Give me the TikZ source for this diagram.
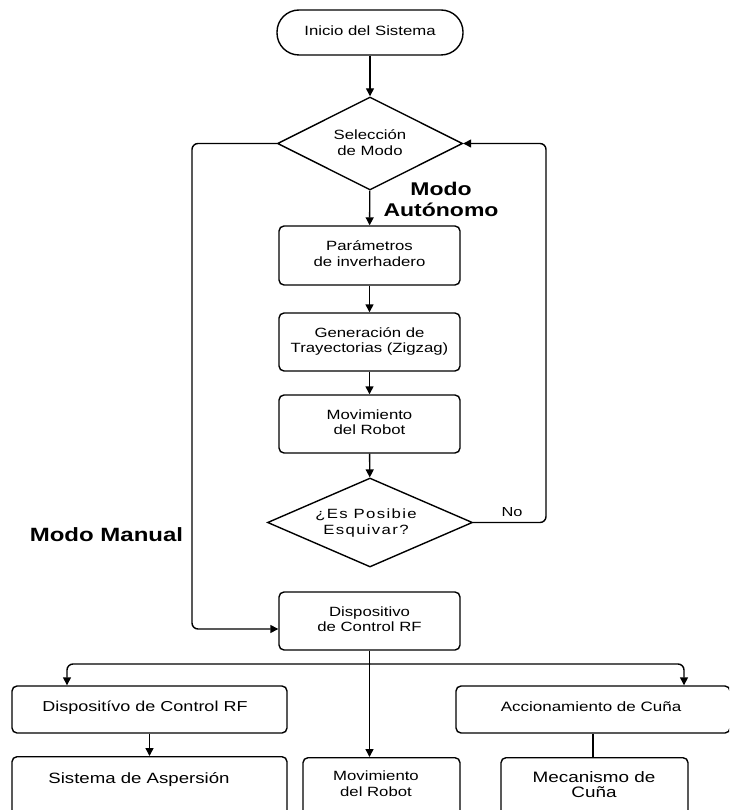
\documentclass[tikz,border=0pt]{standalone}
\usepackage{fontspec}
\setmainfont{Liberation Sans}
\usetikzlibrary{arrows.meta,shapes.geometric,calc}

% widened sans labels, several lines centred
\newcommand\lbl[2][13.4]{\scalebox{1.25}[1]{\fontsize{#1}{15.2}\selectfont\begin{tabular}{@{}c@{}}#2\end{tabular}}}
\newcommand\modolbl[2][18.4]{\scalebox{1.25}[1]{\fontsize{#1}{21}\selectfont\bfseries\begin{tabular}{@{}c@{}}#2\end{tabular}}}

\begin{document}
\begin{tikzpicture}[x=1pt, y=-1pt,
  box/.style={draw, rounded corners=5pt, inner sep=0pt, line width=1.4pt},
  term/.style={draw, rounded corners=22pt, inner sep=0pt, line width=1.4pt},
  dec/.style={draw, diamond, inner sep=0pt, line width=1.4pt},
  arr/.style={-{Triangle[length=8pt,width=8pt]}, line width=1.4pt},
  plain/.style={line width=1.4pt}]

\useasboundingbox (0,0) rectangle (729,810);
\fill[white] (0,0) rectangle (729,810);
\clip (0,0) rectangle (729,810);

% main column
\node[term, minimum width=186pt, minimum height=45pt] (start) at (370,32.5) {\lbl{Inicio del Sistema}};
\node[dec, minimum width=185pt, minimum height=93pt] (sel) at (370,143.5) {};
\node (seltxt) at (370,144.5) {\lbl{Selección\\de Modo}};
\node[box, minimum width=181pt, minimum height=59pt] (par) at (369.5,255.5) {\lbl{Parámetros\\de inverhadero}};
\node[box, minimum width=181pt, minimum height=58pt] (gen) at (369.5,342) {\lbl{Generación de\\Trayectorias (Zigzag)}};
\node[box, minimum width=181pt, minimum height=58pt] (mov) at (369.5,424) {\lbl{Movimiento\\del Robot}};
\node[dec, minimum width=205pt, minimum height=89pt] (esq) at (370,522.5) {};
\node (esqtxt) at (366,523.5)
  {\lbl{\addfontfeatures{LetterSpace=8}¿Es Posibie\\\addfontfeatures{LetterSpace=8}Esquivar?}};
\node[box, minimum width=181pt, minimum height=58pt] (dev) at (369.5,621) {\lbl{Dispositivo\\de Control RF}};

% lower row
\node[box, minimum width=275pt, minimum height=47pt] (rf2) at (149.5,709.5) {};
\node (rf2txt) at (145,708) {\lbl[14.4]{Dispositívo de Control RF}};
\node[box, minimum width=274pt, minimum height=47pt] (acc) at (593,709.5) {};
\node (acctxt) at (591,708) {\lbl[13.6]{Accionamiento de Cuña}};
\node[box, anchor=north, minimum width=275pt, minimum height=74pt] (asp) at (149.5,756) {};
\node (asptxt) at (139,780) {\lbl[14.9]{Sistema de Aspersión}};
\node[box, anchor=north, minimum width=157pt, minimum height=74pt] (rob) at (381.5,757) {};
\node (robtxt) at (376,785.5) {\lbl{Movimiento\\del Robot}};
\node[box, anchor=north, minimum width=187pt, minimum height=74pt] (mec) at (594.5,757) {};
\node (mectxt) at (594,787) {\lbl[15.1]{Mecanismo de\\Cuña}};

% branch labels
\node (auto) at (441,201.5) {\modolbl{Modo\\Autónomo}};
\node (manual) at (106.5,537) {\modolbl[19.2]{Modo Manual}};
\node (no) at (512,513) {\lbl[13.1]{No}};

% connectors
\draw[arr] (start) -- (sel);
\draw[arr] (sel) -- (par);
\draw[arr] (par) -- (gen);
\draw[arr] (gen) -- (mov);
\draw[arr] (mov) -- (esq);
\draw[arr, rounded corners=6pt] (sel.west) -- (192,143.5) -- (192,629) -- ([yshift=-8pt]dev.west);
\draw[arr, rounded corners=6pt] (esq.east) -- (546,522.5) -- (546,143.5) -- (sel.east);

\coordinate (split) at (370,664);
\draw[arr] (dev.south) -- (dev.south |- rob.north);
\draw[arr, rounded corners=6pt] (split) -| ([xshift=-82.5pt]rf2.north);
\draw[arr, rounded corners=6pt] (split) -| ([xshift=91pt]acc.north);
\draw[arr] (rf2.south) -- (rf2.south |- asp.north);
\draw[plain] (acc.south) -- (acc.south |- mec.north);
\end{tikzpicture}
\end{document}
